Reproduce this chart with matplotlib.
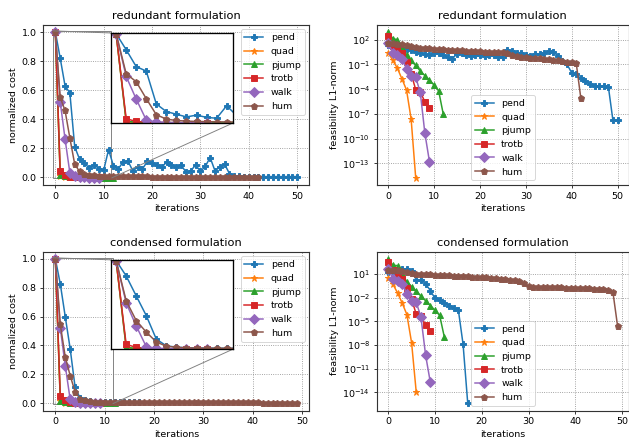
import numpy as np
import matplotlib
matplotlib.use("Agg")
import matplotlib.pyplot as plt
from mpl_toolkits.axes_grid1.inset_locator import mark_inset

# ---------------------------------------------------------------- data
problems = ["pend", "quad", "pjump", "trotb", "walk", "hum"]
markers = ["P", "*", "^", "s", "D", "p"]
colors = ["C0", "C1", "C2", "C3", "C4", "C5"]

# normalized cost, redundant formulation
cost_red_pend = [1.0, 0.82, 0.63, 0.58, 0.21, 0.125, 0.095, 0.065, 0.085, 0.06,
                 0.05, 0.19, 0.08, 0.057, 0.106, 0.113, 0.045, 0.068, 0.057, 0.109,
                 0.095, 0.084, 0.068, 0.106, 0.084, 0.07, 0.085, 0.035, 0.045, 0.085,
                 0.04, 0.075, 0.136, 0.045, 0.07, 0.09, 0.025, 0.01, 0.006, 0.005,
                 0.005, 0.005, 0.005, 0.005, 0.005, 0.005, 0.005, 0.005, 0.005, 0.005,
                 0.005]
cost_red_quad = [1.0, 0.01, 0.002, 0.001, 0.0, 0.0, 0.0]
cost_red_pjump = [1.0, 0.015, 0.006, 0.003, 0.002, 0.001, 0.001, 0.0, -0.001,
                  -0.002, -0.002, -0.003, -0.003]
cost_red_trotb = [1.0, 0.045, 0.014, 0.005, 0.002, 0.001, 0.0, 0.0, 0.0, 0.0]
cost_red_walk = [1.0, 0.52, 0.265, 0.03, 0.008, 0.002, 0.0, -0.002, -0.003, -0.003]
cost_red_hum = [1.0, 0.55, 0.46, 0.27, 0.09, 0.04, 0.025, 0.018, 0.014, 0.012,
                0.01, 0.009, 0.008, 0.008, 0.007, 0.007, 0.006, 0.006, 0.006, 0.006,
                0.005, 0.005, 0.005, 0.005, 0.005, 0.005, 0.005, 0.005, 0.005, 0.005,
                0.005, 0.005, 0.005, 0.005, 0.005, 0.005, 0.005, 0.005, 0.005, 0.005,
                0.005, 0.005, 0.005]

# normalized cost, condensed formulation
cost_con_pend = [1.0, 0.826, 0.60, 0.377, 0.11, 0.034, 0.02, 0.012, 0.01, 0.009,
                 0.008, 0.007, 0.007, 0.006, 0.006, 0.006, 0.005, 0.005]
cost_con_quad = [1.0, 0.012, 0.003, 0.001, 0.0, 0.0, 0.0]
cost_con_pjump = [1.0, 0.016, 0.006, 0.003, 0.002, 0.001, 0.001, 0.0, -0.001,
                  -0.002, -0.002, -0.003, -0.003]
cost_con_trotb = [1.0, 0.05, 0.018, 0.006, 0.002, 0.001, 0.0, 0.0, 0.0, 0.0]
cost_con_walk = [1.0, 0.52, 0.26, 0.025, 0.006, 0.001, 0.0, -0.002, -0.003, -0.003]
cost_con_hum = [1.0, 0.545, 0.32, 0.19, 0.078, 0.03, 0.018, 0.012, 0.009, 0.008,
                0.007, 0.007, 0.006, 0.006, 0.006, 0.005, 0.005, 0.005, 0.005, 0.005,
                0.005, 0.005, 0.005, 0.005, 0.005, 0.01, 0.005, 0.004, 0.004, 0.004,
                0.004, 0.004, 0.004, 0.004, 0.004, 0.004, 0.004, 0.004, 0.004, 0.004,
                0.004, 0.004, 0.003, 0.003, 0.003, 0.003, 0.003, 0.003, 0.003, 0.003]

# log10 of feasibility L1-norm, redundant formulation
feas_red_pend = [1.4, 1.3, 1.2, 1.05, 0.85, 0.7, 0.55, 0.4, 0.25, 0.15,
                 0.35, 0.35, 0.15, -0.15, -0.3, 0.3, 0.35, 0.2, 0.05, 0.2,
                 0.15, 0.05, 0.1, 0.1, -0.05, -0.1, 0.8, 0.6, 0.4, 0.45,
                 0.15, 0.05, 0.3, 0.3, 0.35, 0.6, 0.5, 0.05, -0.6, -1.0,
                 -2.0, -2.2, -2.7, -3.0, -3.4, -3.6, -3.6, -3.6, -3.7, -7.8,
                 -7.7]
feas_red_quad = [0.45, -0.5, -1.45, -2.75, -4.1, -7.6, -14.75]
feas_red_pjump = [2.94, 2.15, 2.0, 1.0, 0.2, -0.5, -1.1, -1.8, -2.35, -2.9,
                  -3.5, -4.2, -7.0]
feas_red_trotb = [2.5, 1.3, 0.7, 0.4, -0.7, -2.1, -4.05, -4.3, -5.55, -6.25]
feas_red_walk = [1.6, 0.45, 0.15, -0.3, -1.5, -2.35, -2.55, -4.4, -9.35, -12.8]
feas_red_hum = [1.55, 1.55, 1.5, 1.5, 1.35, 1.2, 1.1, 1.05, 1.0, 0.95,
                0.88, 0.85, 0.82, 0.8, 0.75, 0.72, 0.7, 0.68, 0.65, 0.62,
                0.58, 0.56, 0.54, 0.52, 0.5, 0.47, 0.38, 0.2, 0.05, -0.05,
                -0.12, -0.16, -0.2, -0.25, -0.3, -0.36, -0.42, -0.5, -0.57, -0.65,
                -0.72, -0.86, -5.1]

# log10 of feasibility L1-norm, condensed formulation
feas_con_pend = [1.2, 1.35, 1.5, 1.6, 1.65, 1.4, 0.25, 0.25, -0.25, -1.1,
                 -2.1, -2.35, -2.65, -3.0, -3.3, -3.6, -7.9, -15.4]
feas_con_quad = [0.45, -0.3, -1.4, -2.7, -4.15, -7.7, -14.0]
feas_con_pjump = [2.9, 2.1, 2.05, 1.0, 0.0, -0.6, -1.2, -1.8, -2.4, -3.0,
                  -3.6, -4.25, -7.0]
feas_con_trotb = [2.45, 1.45, 0.6, 0.35, -0.8, -2.2, -4.1, -4.3, -5.5, -6.2]
feas_con_walk = [1.6, 0.4, 0.15, -0.25, -1.5, -2.45, -2.6, -4.45, -9.3, -12.7]
feas_con_hum = [1.55, 1.5, 1.45, 1.4, 1.3, 1.15, 1.05, 1.0, 0.97, 0.94,
                0.9, 0.87, 0.84, 0.8, 0.77, 0.74, 0.72, 0.7, 0.66, 0.62,
                0.58, 0.55, 0.5, 0.45, 0.4, 0.35, 0.28, 0.2, 0.1, -0.2,
                -0.55, -0.6, -0.62, -0.63, -0.65, -0.66, -0.68, -0.7, -0.72, -0.73,
                -0.75, -0.77, -0.8, -0.82, -0.85, -0.88, -0.92, -0.98, -1.25, -5.55]

cost_red = [cost_red_pend, cost_red_quad, cost_red_pjump, cost_red_trotb,
            cost_red_walk, cost_red_hum]
cost_con = [cost_con_pend, cost_con_quad, cost_con_pjump, cost_con_trotb,
            cost_con_walk, cost_con_hum]
feas_red = [feas_red_pend, feas_red_quad, feas_red_pjump, feas_red_trotb,
            feas_red_walk, feas_red_hum]
feas_con = [feas_con_pend, feas_con_quad, feas_con_pjump, feas_con_trotb,
            feas_con_walk, feas_con_hum]

feas_red_ticks = [1e2, 1e-1, 1e-4, 1e-7, 1e-10, 1e-13]
feas_con_ticks = [1e1, 1e-2, 1e-5, 1e-8, 1e-11, 1e-14]

# ---------------------------------------------------------------- style
DPI = 68
MS = 7
LW = 1.6
plt.rcParams.update({
    "axes.linewidth": 1.2,
    "axes.edgecolor": "0.2",
})


def style_grid(ax):
    ax.grid(True, linestyle=":", color="0.55", linewidth=0.9)
    ax.set_axisbelow(True)


def draw_cost(ax, series, title):
    for vals, name, m, c in zip(series, problems, markers, colors):
        ax.plot(np.arange(len(vals)), vals, marker=m, color=c, ms=MS, lw=LW,
                label=name)
    style_grid(ax)
    ax.set_title(title)
    ax.set_xlabel("iterations")
    ax.set_ylabel("normalized cost")
    ax.legend(loc="upper right")

    axins = ax.inset_axes([0.255, 0.386, 0.457, 0.5625])
    for vals, m, c in zip(series, markers, colors):
        axins.plot(np.arange(len(vals)), vals, marker=m, color=c, ms=MS, lw=LW)
    axins.set_xlim(-0.5, 11.6)
    axins.set_ylim(-0.005, 1.008)
    axins.set_xticks([])
    axins.set_yticks([])
    for sp in axins.spines.values():
        sp.set_edgecolor("black")
        sp.set_linewidth(1.4)
    mark_inset(ax, axins, loc1=2, loc2=4, fc="none", ec="0.5", lw=1.0)


def draw_feas(ax, series, title, ticks):
    for vals, name, m, c in zip(series, problems, markers, colors):
        ax.semilogy(np.arange(len(vals)), 10.0 ** np.asarray(vals),
                    marker=m, color=c, ms=MS, lw=LW, label=name)
    ax.set_yticks(ticks)
    style_grid(ax)
    ax.set_title(title)
    ax.set_xlabel("iterations")
    ax.set_ylabel("feasibility L1-norm")
    ax.legend(loc="lower center")


fig = plt.figure(figsize=(629 / DPI, 440 / DPI), dpi=DPI)
ax_tl = fig.add_axes([0.0688, 0.5795, 0.4229, 0.3643])
ax_tr = fig.add_axes([0.5989, 0.5795, 0.4011, 0.3643])
ax_bl = fig.add_axes([0.0688, 0.0666, 0.4229, 0.3614])
ax_br = fig.add_axes([0.5989, 0.0666, 0.4011, 0.3614])

draw_cost(ax_tl, cost_red, "redundant formulation")
draw_feas(ax_tr, feas_red, "redundant formulation", feas_red_ticks)
draw_cost(ax_bl, cost_con, "condensed formulation")
draw_feas(ax_br, feas_con, "condensed formulation", feas_con_ticks)

fig.savefig("out.png", dpi=DPI)
